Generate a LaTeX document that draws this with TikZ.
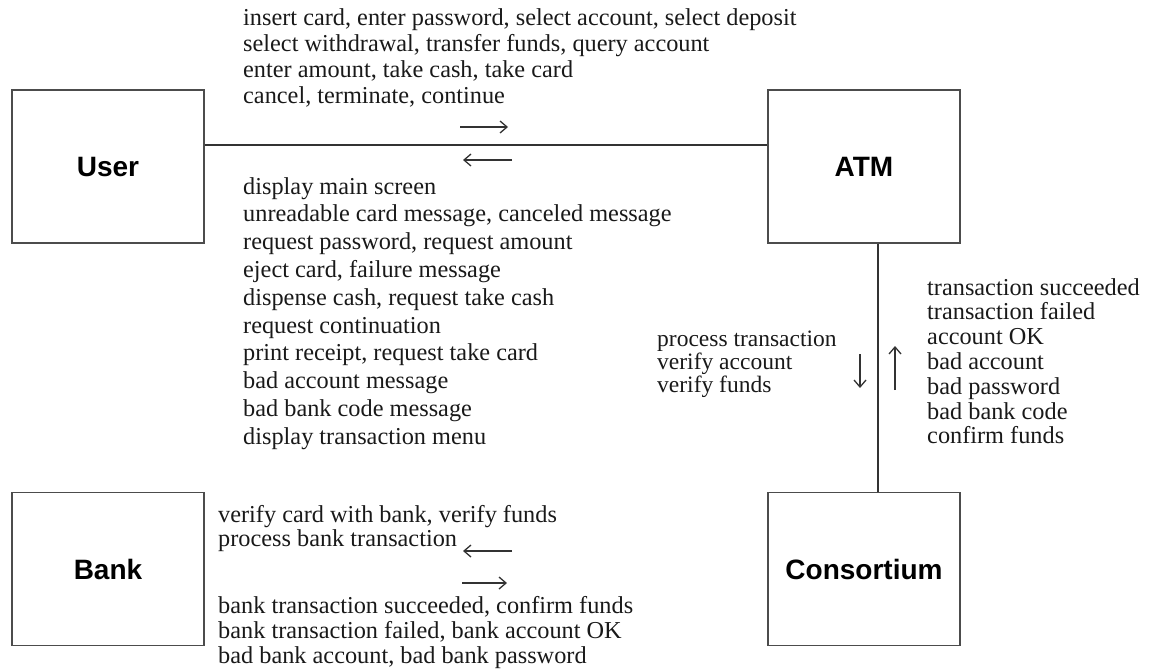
\documentclass[tikz,border=0pt]{standalone}
\usepackage{fontspec}
\setmainfont{Liberation Serif}
\newfontfamily\boxfont{Liberation Sans}
\usetikzlibrary{arrows.meta}
\begin{document}
\begin{tikzpicture}[x=1pt,y=-1pt,
  entity/.style={draw=black!70, line width=1.6pt, minimum width=192pt, minimum height=153pt, inner sep=0pt,
    font=\boxfont\bfseries\fontsize{28}{30}\selectfont},
  wire/.style={draw=black!80, line width=1.4pt},
  msg/.style={-{Straight Barb[length=7pt,width=12pt,line width=1.3pt]}, line width=1.1pt, draw=black!80},
  lbl/.style={anchor=base west, inner sep=0pt, font=\fontsize{24.3}{27}\selectfont, text=black!90},
  slbl/.style={lbl, font=\fontsize{23.5}{26}\selectfont}]
\useasboundingbox (0,0) rectangle (1166,670);

% entities
\node[entity] (user) at (108,166.5) {User};
\node[entity] (atm) at (864,166.5) {ATM};
\node[entity] (bank) at (108,569) {Bank};
\node[entity] (cons) at (864,569) {Consortium};

% connectors
\draw[wire] ([yshift=21.5pt]user.east) -- ([yshift=21.5pt]atm.west);
\draw[wire] ([xshift=14pt]atm.south) -- ([xshift=14pt]cons.north);

% direction arrows
\draw[msg] (460,127) -- (508,127);
\draw[msg] (512,160) -- (463,160);
\draw[msg] (860,354) -- (860,388);
\draw[msg] (895,390) -- (895,346);
\draw[msg] (512,551) -- (463,551);
\draw[msg] (462,583) -- (507,583);

% user -> atm messages
\foreach \t [count=\i] in {{insert card, enter password, select account, select deposit},
  {select withdrawal, transfer funds, query account},
  {enter amount, take cash, take card},
  {cancel, terminate, continue}}
  \node[lbl] (ua\i) at (243,{25+26*(\i-1)}) {\t};

% atm -> user messages
\foreach \t [count=\i] in {{display main screen},
  {unreadable card message, canceled message},
  {request password, request amount},
  {eject card, failure message},
  {dispense cash, request take cash},
  {request continuation},
  {print receipt, request take card},
  {bad account message},
  {bad bank code message},
  {display transaction menu}}
  \node[lbl] (au\i) at (243,{194+27.8*(\i-1)}) {\t};

% atm -> consortium
\foreach \t [count=\i] in {{process transaction},{verify account},{verify funds}}
  \node[slbl] (ac\i) at (657,{346+23*(\i-1)}) {\t};

% consortium -> atm
\foreach \t [count=\i] in {{transaction succeeded},{transaction failed},{account OK},
  {bad account},{bad password},{bad bank code},{confirm funds}}
  \node[lbl] (ca\i) at (927,{295+24.8*(\i-1)}) {\t};

% consortium -> bank
\foreach \t [count=\i] in {{verify card with bank, verify funds},{process bank transaction}}
  \node[lbl] (cb\i) at (218,{522+24.5*(\i-1)}) {\t};

% bank -> consortium
\foreach \t [count=\i] in {{bank transaction succeeded, confirm funds},
  {bank transaction failed, bank account OK},
  {bad bank account, bad bank password}}
  \node[lbl] (bc\i) at (218,{613+25*(\i-1)}) {\t};
\end{tikzpicture}
\end{document}
